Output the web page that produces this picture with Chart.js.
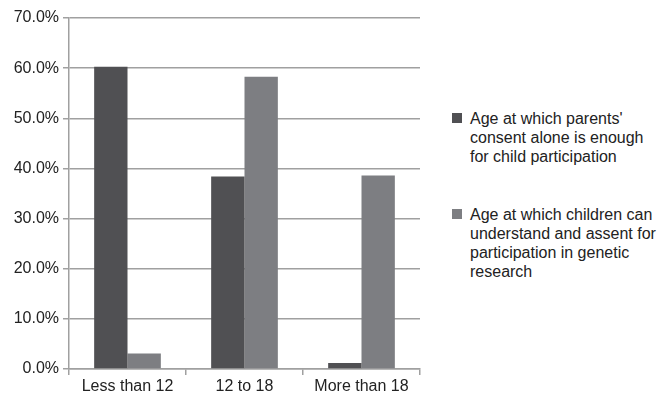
<!DOCTYPE html>
<html lang="en">
<head>
    <meta charset="UTF-8">
    <script src="https://cdn.jsdelivr.net/npm/chart.js"></script>
    <title>Age of consent and assent</title>
    <style>
        body { margin: 0; background: #fff; font-family: "Liberation Sans", Arial, sans-serif; }
        .wrap { position: relative; width: 659px; height: 400px; }
        .chart-box { position: absolute; left: 0; top: 0; width: 422px; height: 400px; }
        .legend { position: absolute; left: 452px; top: 109px; width: 205px; color: #222; font-size: 16px; line-height: 19px; }
        .legend .item { position: relative; padding-left: 18px; margin-bottom: 39px; }
        .legend .swatch { position: absolute; left: 0; top: 4px; width: 10px; height: 10px; }
    </style>
</head>
<body>
<div class="wrap">
    <div class="chart-box"><canvas id="ageChart"></canvas></div>
    <div class="legend" id="legend"></div>
</div>

<script>
// data
const categories = ['Less than 12', '12 to 18', 'More than 18'];
const parentsConsent = [60.3, 38.4, 1.2];
const childrenAssent = [3.1, 58.3, 38.6];
const seriesNames = [
    "Age at which parents' consent alone is enough for child participation",
    'Age at which children can understand and assent for participation in genetic research'
];
const legendLines = [
    ["Age at which parents'", 'consent alone is enough', 'for child participation'],
    ['Age at which children can', 'understand and assent for', 'participation in genetic', 'research']
];
const yTicks = [0, 10, 20, 30, 40, 50, 60, 70];
const colors = ['#505053', '#7d7e82'];

const ctx = document.getElementById('ageChart').getContext('2d');
new Chart(ctx, {
    type: 'bar',
    data: {
        labels: categories,
        datasets: [
            { label: seriesNames[0], data: parentsConsent, backgroundColor: colors[0] },
            { label: seriesNames[1], data: childrenAssent, backgroundColor: colors[1] }
        ]
    },
    options: {
        responsive: true,
        maintainAspectRatio: false,
        animation: false,
        datasets: { bar: { categoryPercentage: 0.57, barPercentage: 1.0 } },
        layout: { padding: { top: 18, right: 2, left: 0, bottom: 0 } },
        plugins: { legend: { display: false }, tooltip: { enabled: false } },
        scales: {
            x: {
                grid: { display: true, drawOnChartArea: false, drawTicks: true, tickLength: 6, color: '#a0a0a0', lineWidth: 1.5 },
                border: { display: true, color: '#a0a0a0', width: 1.5 },
                ticks: { color: '#222', font: { family: 'Liberation Sans', size: 16 }, padding: 2 },
                afterFit: (scale) => { scale.height = 31; }
            },
            y: {
                min: 0,
                max: 70,
                afterBuildTicks: (scale) => { scale.ticks = yTicks.map(v => ({ value: v })); },
                grid: { color: '#a0a0a0', lineWidth: 1.5, tickLength: 6 },
                border: { display: true, color: '#a0a0a0', width: 1.5 },
                ticks: {
                    color: '#222',
                    font: { family: 'Liberation Sans', size: 16 },
                    padding: 4,
                    callback: (v) => v.toFixed(1) + '%'
                },
                afterFit: (scale) => { scale.width = 69; }
            }
        }
    }
});

// html legend on the right
const legendEl = document.getElementById('legend');
legendLines.forEach((lines, i) => {
    const item = document.createElement('div');
    item.className = 'item';
    const sw = document.createElement('span');
    sw.className = 'swatch';
    sw.style.background = colors[i];
    item.appendChild(sw);
    item.appendChild(document.createTextNode(''));
    lines.forEach((line, j) => {
        if (j > 0) item.appendChild(document.createElement('br'));
        item.appendChild(document.createTextNode(line));
    });
    legendEl.appendChild(item);
});
</script>
</body>
</html>
